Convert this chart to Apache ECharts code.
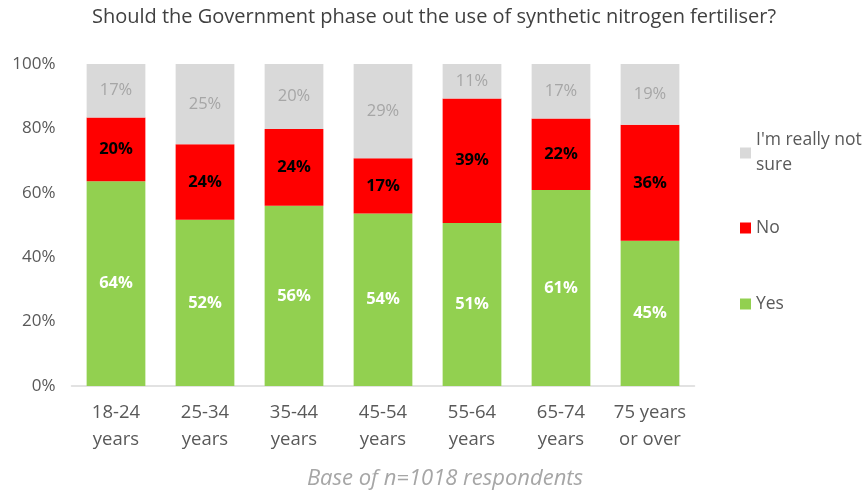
<!DOCTYPE html>
<html><head><meta charset="utf-8">
<script src="https://cdn.jsdelivr.net/npm/echarts@6/dist/echarts.min.js"></script>
<style>html,body{margin:0;padding:0;background:#fff}#c{width:868px;height:492px}</style>
</head><body><div id="c"></div>
<script>
var categories = ['18-24\nyears','25-34\nyears','35-44\nyears','45-54\nyears','55-64\nyears','65-74\nyears','75 years\nor over'];
var yesValues = [63.6, 51.6, 56.0, 53.6, 50.6, 60.9, 45.1];
var noValues = [19.8, 23.5, 23.8, 17.1, 38.7, 22.2, 36.0];
var notSureValues = [16.6, 24.9, 20.2, 29.3, 10.7, 16.9, 18.9];
var yTicks = [0, 20, 40, 60, 80, 100];
var titleText = 'Should the Government phase out the use of synthetic nitrogen fertiliser?';
var footText = 'Base of n=1018 respondents';

var FONT = 'Open Sans';
var chart = echarts.init(document.getElementById('c'), null, {renderer:'canvas'});
function pct(p){ return Math.round(p.value) + '%'; }
function legendCfg(name, top, extra){
  return Object.assign({
    data:[name], left: 740, top: top, padding: 0,
    itemWidth: 11, itemHeight: 11, icon: 'rect',
    selectedMode: false,
    textStyle: {fontFamily: FONT, fontSize: 17.5, color: '#595959', lineHeight: 25}
  }, extra || {});
}
chart.setOption({
  animation: false,
  textStyle: {fontFamily: FONT},
  title: [{
    text: titleText, left: 'center', top: 2,
    textStyle: {fontFamily: FONT, fontSize: 20, fontWeight: 'normal', color: '#404040'}
  },{
    text: footText, left: 440, top: 463, textAlign: 'center',
    textStyle: {fontFamily: FONT, fontSize: 22, fontStyle: 'italic', fontWeight: 'normal', color: '#a6a6a6'}
  }],
  legend: [
    legendCfg("I'm really not sure", 153 - 37.5, {
      formatter: function(){ return "I'm really not\nsure"; },
      textStyle: {fontFamily: FONT, fontSize: 17.5, color: '#595959', lineHeight: 25, padding: [25,0,0,0]}
    }),
    legendCfg('No', 228 - 12.5),
    legendCfg('Yes', 304 - 12.5)
  ],
  grid: {left: 71.5, right: 173.5, top: 64, bottom: 106, containLabel: false},
  xAxis: {
    type: 'category', data: categories,
    axisLine: {lineStyle: {color: '#d9d9d9', width: 1.5}},
    axisTick: {show: false},
    axisLabel: {interval: 0, hideOverlap: false, fontFamily: FONT, fontSize: 18.5, color: '#595959', lineHeight: 27, margin: 13}
  },
  yAxis: {
    type: 'value', min: 0, max: 100, interval: 20,
    axisLine: {show: false}, axisTick: {show: false}, splitLine: {show: false},
    axisLabel: {fontFamily: FONT, fontSize: 17, color: '#595959', margin: 16, formatter: '{value}%'}
  },
  series: [{
    name: 'Yes', type: 'bar', stack: 's', data: yesValues, barWidth: '66%',
    itemStyle: {color: '#92d050'},
    label: {show: true, position: 'inside', formatter: pct, color: '#ffffff', fontWeight: 'bold', fontSize: 16.5, fontFamily: FONT}
  },{
    name: 'No', type: 'bar', stack: 's', data: noValues,
    itemStyle: {color: '#ff0000'},
    label: {show: true, position: 'inside', formatter: pct, color: '#000000', fontWeight: 'bold', fontSize: 16.5, fontFamily: FONT}
  },{
    name: "I'm really not sure", type: 'bar', stack: 's', data: notSureValues,
    itemStyle: {color: '#d9d9d9'},
    label: {show: true, position: 'inside', formatter: pct, color: '#a6a6a6', fontSize: 16.5, fontFamily: FONT}
  }]
});
</script></body></html>
